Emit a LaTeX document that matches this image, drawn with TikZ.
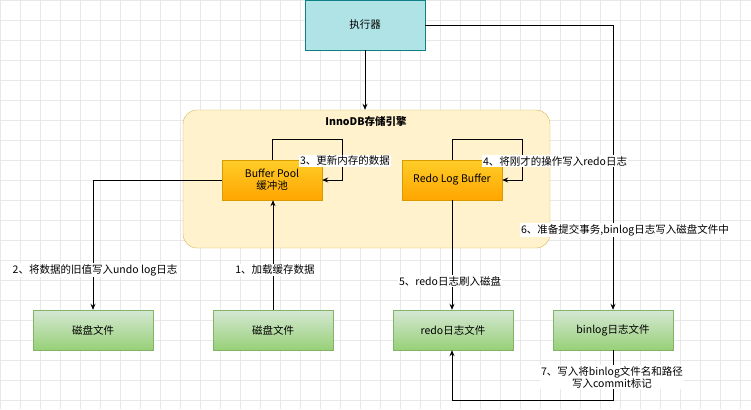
\documentclass[tikz,border=0pt]{standalone}
\usepackage{fontspec}
\setmainfont{Noto Sans CJK SC}
\usetikzlibrary{arrows.meta}
\definecolor{tealf}{HTML}{B0E3E6}\definecolor{teald}{HTML}{0E8088}
\definecolor{yelf}{HTML}{FFF2CC}\definecolor{yeld}{HTML}{D6B656}
\definecolor{orf}{HTML}{FFCD28}\definecolor{orf2}{HTML}{FFA500}\definecolor{ord}{HTML}{D79B00}
\definecolor{grf}{HTML}{D5E8D4}\definecolor{grf2}{HTML}{97D077}\definecolor{grd}{HTML}{82B366}
\begin{document}
\begin{tikzpicture}[x=1pt,y=-1pt,
  txt/.style={font=\fontsize{10.5}{12}\selectfont},
  orbox/.style={draw=ord,top color=orf,bottom color=orf2,minimum width=100pt,minimum height=40pt,align=center,txt,inner sep=0pt},
  grbox/.style={draw=grd,top color=grf,bottom color=grf2,minimum width=120pt,minimum height=40pt,txt},
  lab/.style={fill=white,txt,inner sep=1.5pt,align=center},
  arr/.style={-{Stealth[length=6pt,width=5pt]},line width=0.8pt}]
\useasboundingbox (0,0) rectangle (751,409);
\fill[white] (0,0) rectangle (751,409);
\draw[black!9,line width=0.4pt] (0,0) grid[step=20pt] (751,409);
\node[draw=teald,fill=tealf,minimum width=120pt,minimum height=50pt,txt] (exec) at (365,25) {执行器};
\node[draw=yeld,fill=yelf,rounded corners=14pt,minimum width=367pt,minimum height=138pt] (inno) at (366.5,179) {};
\node[font=\fontsize{10.5}{12}\selectfont\bfseries] (title) at (366,121) {InnoDB存储引擎};
\node[orbox] (bp) at (272,180) {Buffer Pool\\缓冲池};
\node[orbox] (rlb) at (452,180) {Redo Log Buffer};
\node[grbox] (d1) at (93,330) {磁盘文件};
\node[grbox] (d2) at (273,330) {磁盘文件};
\node[grbox] (rf) at (453,330) {redo日志文件};
\node[grbox] (bf) at (613,330) {binlog日志文件};
\draw[arr] (exec.south) -- (exec.south |- inno.north);
\draw[arr] (exec.east) -| (bf.north);
\node[lab] (l6) at (625,230) {6、准备提交事务,binlog日志写入磁盘文件中};
\draw[arr] (bp.west) -| (d1.north);
\node[lab] (l2) at (95,270) {2、将数据的旧值写入undo log日志};
\draw[arr] (d2.north) -- (d2.north |- bp.south);
\node[lab] (l1) at (275,270) {1、加载缓存数据};
\draw[arr] (bp.north) -- ++(0,-20) -| (342,180) -- (bp.east);
\node[lab] (l3) at (345,161) {3、更新内存的数据};
\draw[arr] (rlb.north) -- ++(0,-20) -| (522,180) -- (rlb.east);
\node[lab] (l4) at (555,161) {4、将刚才的操作写入redo日志};
\draw[arr] (rlb.south) -- (rlb.south |- rf.north);
\node[lab] (l5) at (450,281) {5、redo日志刷入磁盘};
\draw[arr] (bf.south) -- (613,400) -| (rlb.south |- rf.south);
\node[lab] (l7) at (612,377) {7、写入将binlog文件名和路径\\写入commit标记};
\end{tikzpicture}
\end{document}
